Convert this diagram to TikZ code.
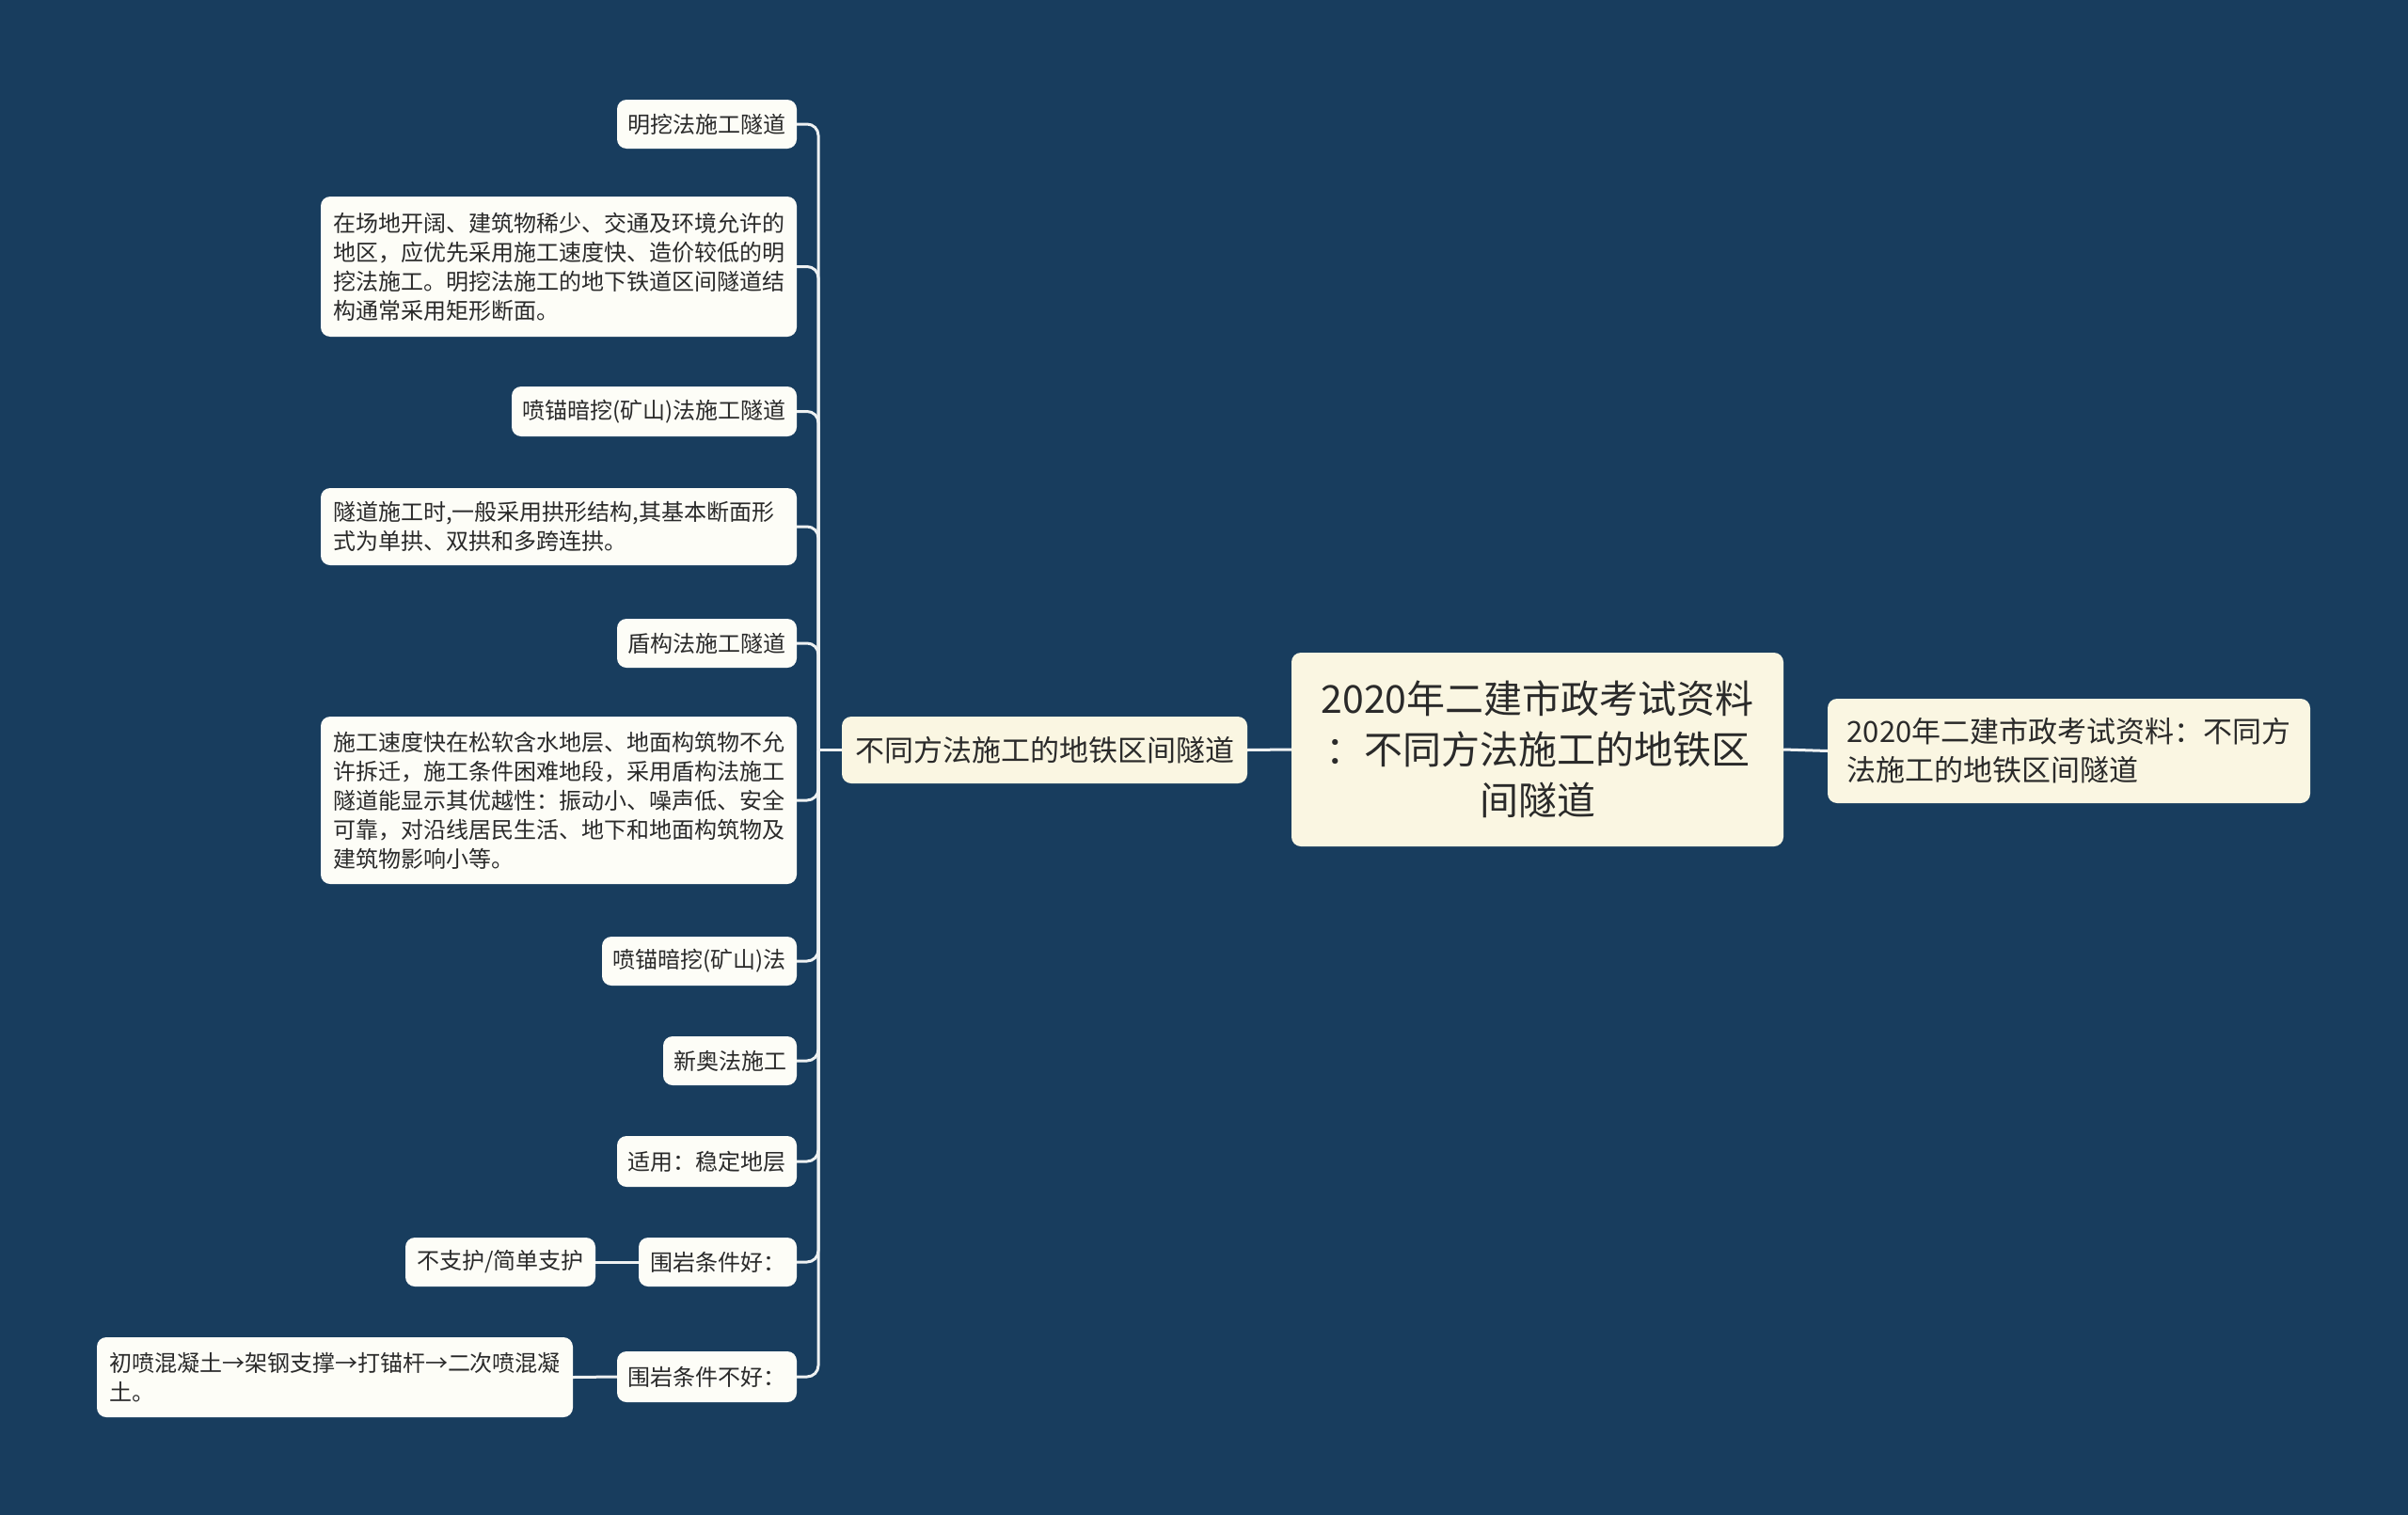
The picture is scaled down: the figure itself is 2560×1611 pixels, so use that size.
\documentclass[tikz,border=0pt]{standalone}
\usepackage{fontspec}
\setmainfont{Noto Sans CJK SC}
\definecolor{bg}{HTML}{183D5E}
\definecolor{leaffill}{HTML}{FDFDF7}
\definecolor{creamfill}{HTML}{FAF6E2}
\definecolor{txt}{HTML}{2A2A2A}
\definecolor{linec}{HTML}{EEF1F2}
\tikzset{
  box/.style={rounded corners=10pt, inner sep=0pt, text=txt},
  leaf/.style={box, fill=leaffill, font=\fontsize{24}{31}\selectfont, align=left},
  para/.style={leaf, text width=480pt, inner xsep=13pt, minimum width=506pt},
  mainbox/.style={box, fill=creamfill, font=\fontsize{31}{41}\selectfont, align=left},
  centerbox/.style={box, fill=creamfill, font=\fontsize{41}{54}\selectfont, align=center},
  conn/.style={draw=linec, line width=3pt, rounded corners=12pt}
}
\begin{document}
\begin{tikzpicture}[x=1pt,y=-1pt]
\fill[bg] (0,0) rectangle (2560,1611);
\useasboundingbox (0,0) rectangle (2560,1611);

% centre and first-level nodes
\node[centerbox, minimum width=523pt, minimum height=206pt] (C) at (1634.5,797) {2020年二建市政考试资料\\：不同方法施工的地铁区\\间隧道};
\node[mainbox, minimum width=431pt, minimum height=71pt] (L1) at (1110.5,797.5) {不同方法施工的地铁区间隧道};
\node[mainbox, minimum width=513pt, minimum height=111pt] (R) at (2199.5,798.5) {2020年二建市政考试资料：不同方\\法施工的地铁区间隧道};

% leaves
\node[leaf, minimum width=191pt, minimum height=52pt] (n1) at (751.5,132) {明挖法施工隧道};
\node[para, minimum height=149pt] (n2) at (594,283.5) {在场地开阔、建筑物稀少、交通及环境允许的\\地区，应优先采用施工速度快、造价较低的明\\挖法施工。明挖法施工的地下铁道区间隧道结\\构通常采用矩形断面。};
\node[leaf, minimum width=303pt, minimum height=53pt] (n3) at (695.5,437.5) {喷锚暗挖(矿山)法施工隧道};
\node[para, minimum height=82pt] (n4) at (594,560) {隧道施工时,一般采用拱形结构,其基本断面形\\式为单拱、双拱和多跨连拱。};
\node[leaf, minimum width=191pt, minimum height=52pt] (n5) at (751.5,684) {盾构法施工隧道};
\node[para, minimum height=178pt] (n6) at (594,851) {施工速度快在松软含水地层、地面构筑物不允\\许拆迁，施工条件困难地段，采用盾构法施工\\隧道能显示其优越性：振动小、噪声低、安全\\可靠，对沿线居民生活、地下和地面构筑物及\\建筑物影响小等。};
\node[leaf, minimum width=207pt, minimum height=52pt] (n7) at (743.5,1022) {喷锚暗挖(矿山)法};
\node[leaf, minimum width=142pt, minimum height=52pt] (n8) at (776,1128) {新奥法施工};
\node[leaf, minimum width=191pt, minimum height=54pt] (n9) at (751.5,1235) {适用：稳定地层};
\node[leaf, minimum width=168pt, minimum height=52pt] (n10) at (763,1342) {围岩条件好：};
\node[leaf, minimum width=202pt, minimum height=52pt] (n10a) at (532,1342) {不支护/简单支护};
\node[leaf, minimum width=191pt, minimum height=54pt] (n11) at (751.5,1464) {围岩条件不好：};
\node[para, minimum height=85pt] (n11a) at (356,1464.5) {初喷混凝土→架钢支撑→打锚杆→二次喷混凝\\土。};

% connectors
\coordinate (sp) at (870,797.5);
\draw[conn] (C.west) -- (L1.east);
\draw[conn] (C.east) -- (R.west);
\draw[conn] (L1.west) -- (sp);
\foreach \n in {n1,n2,n3,n4,n5,n6,n7,n8,n9,n10,n11}
  \draw[conn] (sp) |- (\n.east);
\draw[conn] (n10.west) -- (n10a.east);
\draw[conn] (n11.west) -- (n11a.east);
\end{tikzpicture}
\end{document}
